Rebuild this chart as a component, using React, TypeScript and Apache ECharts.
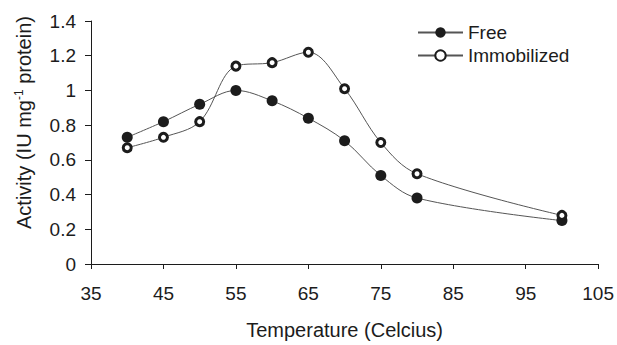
import React, { useEffect, useRef } from "react";
import * as echarts from "echarts";

const temperatures = [40, 45, 50, 55, 60, 65, 70, 75, 80, 100];
const freeActivity = [0.73, 0.82, 0.92, 1.0, 0.94, 0.84, 0.71, 0.51, 0.38, 0.25];
const immobilizedActivity = [0.67, 0.73, 0.82, 1.14, 1.16, 1.22, 1.01, 0.7, 0.52, 0.28];
const seriesNames = ["Free", "Immobilized"];
const xName = "Temperature (Celcius)";
const yNameMain = "Activity (IU mg";
const yNameSup = "-1";
const yNameEnd = " protein)";

const FONT = "'Liberation Sans', Arial, sans-serif";
const INK = "#1c1c1c";

export default function App() {
  const ref = useRef<HTMLDivElement>(null);
  useEffect(() => {
    document.body.style.margin = "0";
    const chart = echarts.init(ref.current!, null, { renderer: "svg" });
    const toPairs = (ys: number[]) => temperatures.map((t, i) => [t, ys[i]]);
    chart.setOption({
      animation: false,
      backgroundColor: "#ffffff",
      grid: { left: 91, right: 17, top: 21, bottom: 74, containLabel: false },
      legend: {
        orient: "vertical",
        left: 412,
        top: 18,
        itemWidth: 45,
        itemHeight: 13,
        itemGap: 4,
        textStyle: { fontFamily: FONT, fontSize: 19, color: INK },
        data: seriesNames,
      },
      xAxis: {
        type: "value",
        min: 35,
        max: 105,
        interval: 10,
        name: xName,
        nameLocation: "middle",
        nameGap: 56,
        nameTextStyle: { fontFamily: FONT, fontSize: 20, color: INK },
        axisLine: { lineStyle: { color: INK, width: 1 } },
        axisTick: { length: 5, lineStyle: { color: INK } },
        axisLabel: { fontFamily: FONT, fontSize: 19, color: INK, margin: 20 },
        splitLine: { show: false },
      },
      yAxis: {
        type: "value",
        min: 0,
        max: 1.4,
        interval: 0.2,
        name: "{m|" + yNameMain + "}{s|" + yNameSup + "}{m|" + yNameEnd + "}",
        nameLocation: "middle",
        nameGap: 56,
        nameTextStyle: {
          fontFamily: FONT,
          fontSize: 20,
          color: INK,
          padding: [0, 0, 0, 40],
          rich: {
            m: { fontFamily: FONT, fontSize: 20, color: INK },
            s: { fontFamily: FONT, fontSize: 12, color: INK, verticalAlign: "top", padding: [0, 0, 10, 0] },
          },
        },
        axisLine: { show: true, lineStyle: { color: INK, width: 1 } },
        axisTick: { show: true, length: 6, lineStyle: { color: INK } },
        axisLabel: { fontFamily: FONT, fontSize: 19, color: INK, margin: 15 },
        splitLine: { show: false },
      },
      series: [
        {
          name: seriesNames[0],
          type: "line",
          smooth: 0.35,
          data: toPairs(freeActivity),
          symbol: "circle",
          symbolSize: 11,
          lineStyle: { color: "#555", width: 1 },
          itemStyle: { color: INK, borderColor: INK, borderWidth: 0 },
        },
        {
          name: seriesNames[1],
          type: "line",
          smooth: 0.35,
          data: toPairs(immobilizedActivity),
          symbol: "circle",
          symbolSize: 8,
          lineStyle: { color: "#555", width: 1 },
          itemStyle: { color: "#ffffff", borderColor: INK, borderWidth: 3 },
        },
      ],
    });
    return () => chart.dispose();
  }, []);
  return <div ref={ref} style={{ width: 617, height: 345 }} />;
}
